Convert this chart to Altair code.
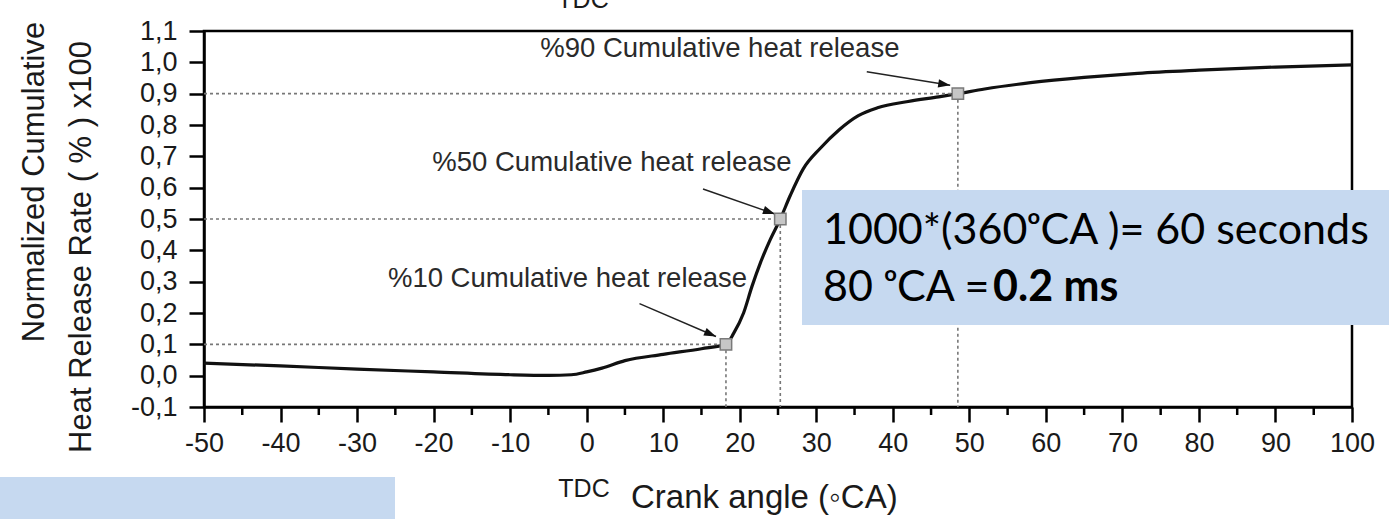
import math
import altair as alt
import pandas as pd

# ---------------- data ----------------
crank_angle = [-50, -40, -30, -20, -10, -5, -2, 0, 2, 5, 10, 15, 18.2, 19.2, 20.5,
               21.6, 22.7, 24, 25.3, 26.6, 28.3, 30.5, 33, 35.5, 38, 42, 46, 48.5,
               52, 58, 65, 72, 80, 90, 100]
heat_release = [0.040, 0.031, 0.021, 0.012, 0.003, 0.001, 0.003, 0.012, 0.024, 0.048,
                0.068, 0.086, 0.100, 0.135, 0.200, 0.285, 0.360, 0.435, 0.500, 0.575,
                0.660, 0.725, 0.785, 0.830, 0.855, 0.875, 0.890, 0.900, 0.915, 0.935,
                0.952, 0.965, 0.975, 0.985, 0.992]

marker_x = [18.2, 25.3, 48.5]
marker_y = [0.1, 0.5, 0.9]

ann_text = ["%10 Cumulative heat release", "%50 Cumulative heat release",
            "%90  Cumulative heat release"]
ann_x = [-2.5, 3.3, 17.4]
ann_y = [0.31, 0.678, 1.042]

arrow_x0 = [6.9, 15.2, 36.6]
arrow_y0 = [0.23, 0.596, 0.97]
arrow_x1 = [16.9, 24.6, 47.5]
arrow_y1 = [0.125, 0.516, 0.927]

x_ticks = [-50, -40, -30, -20, -10, 0, 10, 20, 30, 40, 50, 60, 70, 80, 90, 100]
x_minor = [-45, -35, -25, -15, -5, 5, 15, 25, 35, 45, 55, 65, 75, 85, 95]
y_ticks = [-0.1, 0.0, 0.1, 0.2, 0.3, 0.4, 0.5, 0.6, 0.7, 0.8, 0.9, 1.0, 1.1]

X_DOM = [-50, 100]
Y_DOM = [-0.1, 1.1]

# ---------------- layout ----------------
W, H = 1148, 376
PAD = {"left": 204, "top": 31, "right": 37, "bottom": 112}
px_x = W / (X_DOM[1] - X_DOM[0])
px_y = H / (Y_DOM[1] - Y_DOM[0])

FONT = "Liberation Sans"
TXT = "#1a1a1a"

xs = alt.Scale(domain=X_DOM, nice=False, zero=False)
ys = alt.Scale(domain=Y_DOM, nice=False, zero=False)

x_axis = alt.Axis(values=x_ticks, title=None, labelExpr="'' + datum.value",
                  tickSize=15, tickWidth=2.5, tickColor="black",
                  domainColor="black", domainWidth=2.5, labelFont=FONT,
                  labelFontSize=27, labelColor=TXT, labelPadding=8,
                  grid=False, labelFlush=False, labelOverlap=False)
y_axis = alt.Axis(values=y_ticks, title=None,
                  labelExpr="replace(replace(format(datum.value, '.1f'), '.', ','), '\u2212', '-')",
                  tickSize=15, tickWidth=2.5, tickColor="black",
                  domainColor="black", domainWidth=2.5, labelFont=FONT,
                  labelFontSize=27, labelColor=TXT, labelPadding=12,
                  grid=False, labelFlush=False, labelOverlap=False)


def X(field):
    return alt.X(field, scale=xs, axis=x_axis)


def Y(field):
    return alt.Y(field, scale=ys, axis=y_axis)


curve = pd.DataFrame({"x": crank_angle, "y": heat_release})
marks = pd.DataFrame({"mx": marker_x, "my": marker_y,
                      "x0": [X_DOM[0]] * 3, "y0": [Y_DOM[0]] * 3})
ann = pd.DataFrame({"t": ann_text, "x": ann_x, "y": ann_y})
arr = pd.DataFrame({"x0": arrow_x0, "y0": arrow_y0, "x1": arrow_x1, "y1": arrow_y1})
arr["angle"] = [math.degrees(math.atan2((a - b) * px_y, (d - c) * px_x))
                for a, b, c, d in zip(arrow_y0, arrow_y1, arrow_x0, arrow_x1)]
minor = pd.DataFrame({"x": x_minor})
one = alt.Data(values=[{"k": 1}])

line = alt.Chart(curve).mark_line(color="#111111", strokeWidth=3.2,
                                  interpolate="monotone").encode(
    x=X("x:Q"), y=Y("y:Q"))

minor_ticks = alt.Chart(minor).mark_rule(color="black", strokeWidth=2.5).encode(
    x=X("x:Q"), y=alt.value(H), y2=alt.value(H + 8))

hdash = alt.Chart(marks).mark_rule(color="#777777", strokeDash=[3, 3],
                                   strokeWidth=1.6).encode(
    x=X("x0:Q"), x2="mx:Q", y=Y("my:Q"))

vdash = alt.Chart(marks).mark_rule(color="#777777", strokeDash=[3, 3],
                                   strokeWidth=1.6).encode(
    x=X("mx:Q"), y=Y("my:Q"), y2="y0:Q")

arrow_lines = alt.Chart(arr).mark_rule(color="#222222", strokeWidth=1.5).encode(
    x=X("x0:Q"), y=Y("y0:Q"), x2="x1:Q", y2="y1:Q")

arrow_heads = alt.Chart(arr).mark_point(shape="M0,0L-2,-0.7L-2,0.7Z", filled=True,
                                        size=144, color="#111111", opacity=1).encode(
    x=X("x1:Q"), y=Y("y1:Q"), angle=alt.Angle("angle:Q", scale=None))

squares = alt.Chart(marks).mark_square(size=130, filled=True, color="#c6c6c6",
                                       stroke="#7a7a7a", strokeWidth=1.5,
                                       opacity=1).encode(
    x=X("mx:Q"), y=Y("my:Q"))

ann_layer = alt.Chart(ann).mark_text(font=FONT, fontSize=27.5, color="#2a2a2a",
                                     align="center", baseline="middle").encode(
    x=X("x:Q"), y=Y("y:Q"), text="t:N")

BLUE = "#c6d9f0"
box_right = alt.Chart(one).mark_rect(color=BLUE, opacity=1).encode(
    x=alt.value(598), x2=alt.value(1185), y=alt.value(159), y2=alt.value(294))
box_left = alt.Chart(one).mark_rect(color=BLUE, opacity=1).encode(
    x=alt.value(-204), x2=alt.value(191), y=alt.value(446), y2=alt.value(488))

BOXFONT = "Lato"
BOXSIZE = 43
box_l1 = alt.Chart(one).mark_text(text="1000*(360\u1d52CA )= 60 seconds", font=BOXFONT,
                                  fontSize=BOXSIZE, color="black", align="left",
                                  baseline="alphabetic").encode(
    x=alt.value(619), y=alt.value(213))
box_l2a = alt.Chart(one).mark_text(text="80 \u1d52CA =", font=BOXFONT, fontSize=BOXSIZE,
                                   color="black", align="left",
                                   baseline="alphabetic").encode(
    x=alt.value(619), y=alt.value(270))
box_l2b = alt.Chart(one).mark_text(text="0.2 ms", font=BOXFONT, fontSize=BOXSIZE,
                                   fontWeight="bold", color="black", align="left",
                                   baseline="alphabetic").encode(
    x=alt.value(789), y=alt.value(270))

tdc_bottom = alt.Chart(one).mark_text(text="TDC", font=FONT, fontSize=25, color=TXT,
                                      align="center", baseline="alphabetic").encode(
    x=alt.value(380), y=alt.value(466))
tdc_top = alt.Chart(one).mark_text(text="TDC", font=FONT, fontSize=25, color=TXT,
                                   align="center", baseline="alphabetic").encode(
    x=alt.value(379), y=alt.value(-23))
x_title = alt.Chart(one).mark_text(text="Crank angle (\u25e6CA)", font=FONT, fontSize=33,
                                   color=TXT, align="left",
                                   baseline="alphabetic").encode(
    x=alt.value(427), y=alt.value(477))
y_title1 = alt.Chart(one).mark_text(text="Normalized Cumulative", font=FONT, fontSize=31,
                                    color=TXT, align="center", baseline="middle",
                                    angle=270).encode(
    x=alt.value(-169), y=alt.value(151))
y_title2 = alt.Chart(one).mark_text(text="Heat Release Rate  (  %  )    x100", font=FONT,
                                    fontSize=31, color=TXT, align="center",
                                    baseline="middle", angle=270).encode(
    x=alt.value(-122), y=alt.value(216))

chart = alt.layer(
    line, minor_ticks, hdash, vdash, arrow_lines, arrow_heads, squares, ann_layer,
    box_right, box_left, box_l1, box_l2a, box_l2b,
    tdc_bottom, tdc_top, x_title, y_title1, y_title2
).properties(
    width=W, height=H, padding=PAD,
    autosize=alt.AutoSizeParams(type="none"),
    background="white"
).configure_view(stroke="black", strokeWidth=2.5)

chart.save("out.html", embed_options={"renderer": "svg", "actions": False})
